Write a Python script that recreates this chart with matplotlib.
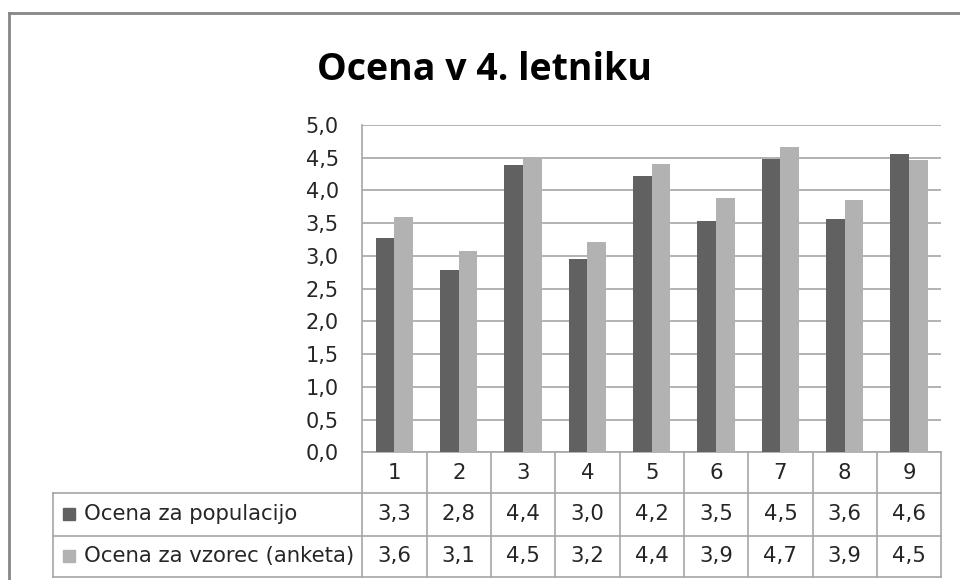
import matplotlib
matplotlib.use("Agg")
import matplotlib.pyplot as plt
import numpy as np
from matplotlib.lines import Line2D
from matplotlib.patches import Rectangle

# chart data (bar heights, table shows rounded values)
categories = ["1", "2", "3", "4", "5", "6", "7", "8", "9"]
populacija = [3.28, 2.79, 4.39, 2.96, 4.22, 3.53, 4.48, 3.57, 4.56]
vzorec = [3.60, 3.08, 4.51, 3.22, 4.41, 3.88, 4.67, 3.86, 4.46]
series_names = ["Ocena za populacijo", "Ocena za vzorec (anketa)"]
title = "Ocena v 4. letniku"

dark = "#616161"
light = "#b2b2b2"
grid_col = "#a6a6a6"
txt_col = "#262626"

W, H = 960, 580
fig = plt.figure(figsize=(W / 100, H / 100), dpi=100)
fig.patch.set_facecolor("white")

# plot area in pixels
left, right, top, bottom = 362.3, 941.3, 125.0, 452.3
ax = fig.add_axes([left / W, (H - bottom) / H, (right - left) / W, (bottom - top) / H])

x = np.arange(len(categories))
bw = 0.29
ax.bar(x - bw / 2, populacija, bw, color=dark, zorder=3)
ax.bar(x + bw / 2, vzorec, bw, color=light, zorder=3)

ax.set_xlim(-0.5, len(categories) - 0.5)
ax.set_ylim(0, 5)
yt = np.arange(0, 5.01, 0.5)
ax.set_yticks(yt)
ax.set_yticklabels([f"{v:.1f}".replace(".", ",") for v in yt])
ax.tick_params(axis="y", length=0, pad=17, labelsize=15, labelcolor=txt_col)
ax.set_xticks([])
ax.yaxis.grid(True, color=grid_col, linewidth=1.2, zorder=0)
for s in ["top", "right"]:
    ax.spines[s].set_visible(False)
for s in ["left", "bottom"]:
    ax.spines[s].set_color(grid_col)
    ax.spines[s].set_linewidth(1.2)

# data table under the plot (y in pixels converted to axes fraction)
ph = bottom - top
def yfrac(py):
    return (bottom - py) / ph

rows = [452.3, 492.5, 536.0, 576.5]
tr = ax.get_xaxis_transform()
label_left = 53.3
lx = -0.5 - (left - label_left) / ((right - left) / len(categories))

for ry in rows[1:]:
    ax.add_line(Line2D([lx, len(categories) - 0.5], [yfrac(ry)] * 2, transform=tr,
                       color=grid_col, lw=1.2, clip_on=False))
for k in range(len(categories) + 1):
    ax.add_line(Line2D([k - 0.5, k - 0.5], [yfrac(rows[0]), yfrac(rows[3])], transform=tr,
                       color=grid_col, lw=1.2, clip_on=False))
ax.add_line(Line2D([lx, lx], [yfrac(rows[1]), yfrac(rows[3])], transform=tr,
                   color=grid_col, lw=1.2, clip_on=False))

fs = 15.3
for i, c in enumerate(categories):
    ax.text(i, yfrac((rows[0] + rows[1]) / 2 + 1), c, transform=tr, ha="center", va="center",
            fontsize=fs, color=txt_col)
    ax.text(i, yfrac((rows[1] + rows[2]) / 2), f"{populacija[i]:.1f}".replace(".", ","),
            transform=tr, ha="center", va="center", fontsize=fs, color=txt_col)
    ax.text(i, yfrac((rows[2] + rows[3]) / 2), f"{vzorec[i]:.1f}".replace(".", ","),
            transform=tr, ha="center", va="center", fontsize=fs, color=txt_col)

# row labels with legend keys
for j, (name, col) in enumerate(zip(series_names, [dark, light])):
    cy = (rows[1 + j] + rows[2 + j]) / 2
    fig.patches.append(Rectangle((63 / W, (H - cy - 6) / H), 12 / W, 12 / H,
                                 transform=fig.transFigure, color=col))
    fig.text(84 / W, (H - cy) / H, name, ha="left", va="center", fontsize=fs, color=txt_col)

# title
fig.text(484 / W, (H - 80) / H, title, ha="center", va="baseline", fontsize=27,
         fontweight="bold", family="Open Sans", color="black")

# outer chart frame (cut by the image edges)
fig.add_artist(Line2D([8.5 / W, 8.5 / W], [0, (H - 12.5) / H], transform=fig.transFigure,
                      color="#868686", lw=2))
fig.add_artist(Line2D([8.5 / W, 1], [(H - 12.5) / H] * 2, transform=fig.transFigure,
                      color="#868686", lw=2))

fig.savefig("out.png", dpi=100)
